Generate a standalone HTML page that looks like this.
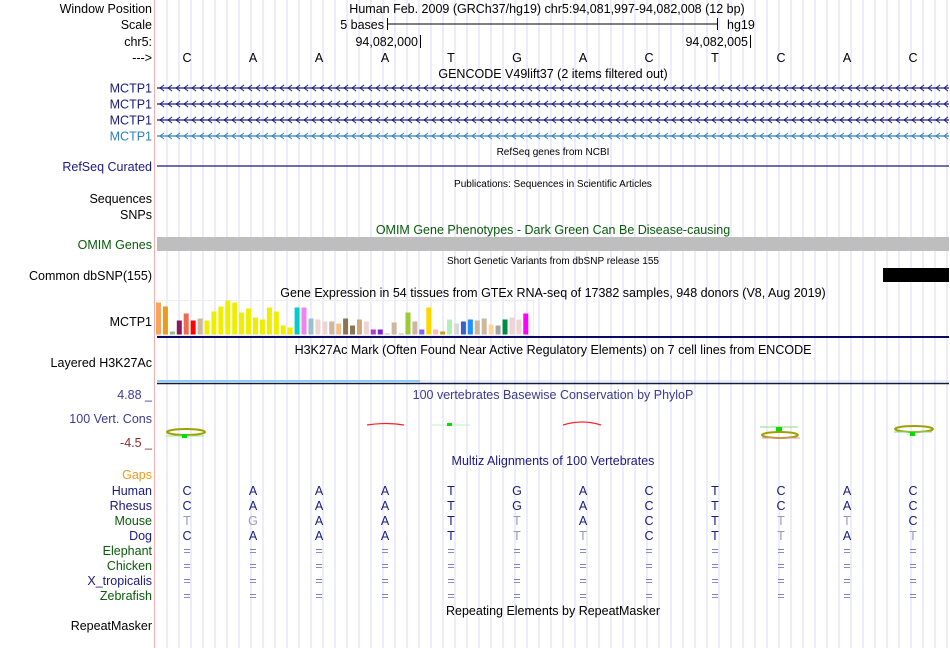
<!DOCTYPE html>
<html><head><meta charset="utf-8">
<style>
body{margin:0;background:#fff;}
#wrap{position:relative;width:950px;height:648px;overflow:hidden;font-family:"Liberation Sans",sans-serif;}
svg text{font-family:"Liberation Sans",sans-serif;}
</style></head>
<body>
<div id="wrap">
<svg id="svg" width="950" height="648"></svg>
</div>
<script>
const bases=["C","A","A","A","T","G","A","C","T","C","A","C"];
const rhesus=["C","A","A","A","T","G","A","C","T","C","A","C"];
const mouse=["T","G","A","A","T","T","A","C","T","T","T","C"];
const mouseMatch=[0,0,1,1,1,0,1,1,1,0,0,1];
const dog=["C","A","A","A","T","T","T","C","T","T","A","T"];
const dogMatch=[1,1,1,1,1,0,0,1,1,0,1,0];
const gtexValues=[32,28,3,14,21,14,16,14,23,28,34,32,22,26,17,15,27,23,9,7,27,27,16,15,13,13,11,16,9,15,13,5,5,1,12,1,22,13,5,27,5,3,15,11,13,15,14,16,10,9,15,17,15,21];
const gtexColors=["#f8a55b","#ee9a1a","#8fbc8f","#8b1a5a","#ee6a50","#ff0000","#cdb79e","#eeee00","#eeee00","#eeee00","#eeee00","#eeee00","#eeee00","#eeee00","#eeee00","#eeee00","#eeee00","#eeee00","#eeee00","#eeee00","#00cdcd","#ee82ee","#9ac0cd","#eed5d2","#eed5d2","#cdb79e","#f4c08a","#8b7355","#8b7355","#cdaa7d","#eed5d2","#b23ad8","#7d26cd","#cdb79e","#cdb79e","#cdb79e","#9acd32","#cdb79e","#7b68ee","#ffd700","#ffb6c1","#cd9b1d","#b4eeb4","#d9d9d9","#3a5fcd","#1e90ff","#cdb79e","#cdb79e","#ffd39b","#a6a6a6","#008b45","#eed5d2","#eed5d2","#ff00ff"];
const NS="http://www.w3.org/2000/svg";
const svg=document.getElementById('svg');
function el(tag,attrs,txt){const e=document.createElementNS(NS,tag);for(const k in attrs)e.setAttribute(k,attrs[k]);if(txt!==undefined)e.textContent=txt;svg.appendChild(e);return e;}
const X0=154,BW=66;
function bx(i){return X0+BW*i+BW/2;}
// grid
for(let x=167;x<950;x+=12){
 const l=el('line',{x1:x,y1:0,x2:x,y2:648,stroke:'#d8d8f4','stroke-width':1});
 
 
}
const sep=el('line',{x1:154.5,y1:0,x2:154.5,y2:648,stroke:'#f4b0b0','stroke-width':1});


function label(y,txt,color,name){
 const t=el('text',{x:152,y:y,'text-anchor':'end','font-size':12.5,fill:color},txt);
 
 
}
function title(y,txt,color,size,name){
 const t=el('text',{x:553,y:y,'text-anchor':'middle','font-size':size,fill:color},txt);
 
 
}
label(13,'Window Position','#000','window-position-label');
label(29,'Scale','#000','scale-label');
label(46,'chr5:','#000','chr5-label');
label(62,'--->','#000','strand-label');
let t=el('text',{x:547,y:13,'text-anchor':'middle','font-size':12.5,fill:'#000'},'Human Feb. 2009 (GRCh37/hg19)   chr5:94,081,997-94,082,008 (12 bp)');


t=el('text',{x:384,y:29,'text-anchor':'end','font-size':12.5,fill:'#000'},'5 bases');


el('line',{x1:387.5,y1:18,x2:387.5,y2:30,stroke:'#000'});
el('line',{x1:387,y1:24,x2:718,y2:24,stroke:'#000'});
el('line',{x1:717.5,y1:18,x2:717.5,y2:30,stroke:'#000'});
t=el('text',{x:727,y:29,'font-size':12.5,fill:'#000'},'hg19');


t=el('text',{x:418,y:46,'text-anchor':'end','font-size':12.5,fill:'#000'},'94,082,000');


el('line',{x1:420.5,y1:35,x2:420.5,y2:48,stroke:'#000'});
t=el('text',{x:748,y:46,'text-anchor':'end','font-size':12.5,fill:'#000'},'94,082,005');


el('line',{x1:750.5,y1:35,x2:750.5,y2:48,stroke:'#000'});
bases.forEach((b,i)=>{
 const e=el('text',{x:bx(i),y:62,'text-anchor':'middle','font-size':12.5,fill:'#000'},b);
 
 
});
title(78,'GENCODE V49lift37 (2 items filtered out)','#000',12.5,'gencode-title');
const gy=[88,104,120,136],gc=['#1a1a80','#1a1a80','#1a1a80','#2d80c0'];
gy.forEach((y,k)=>{
 label(y+4.5,'MCTP1',gc[k],'gene-label-mctp1');
 const g=el('line',{x1:157,y1:y,x2:949,y2:y,stroke:gc[k],'stroke-width':1.3});
 
 
 let d='';
 for(let x=160;x<949;x+=8){d+=`M${x+4},${y-3}L${x},${y}L${x+4},${y+3}`;}
 el('path',{d:d,stroke:gc[k],fill:'none','stroke-width':1});
});
title(155,'RefSeq genes from NCBI','#000',10,'refseq-title');
label(171,'RefSeq Curated','#1a1a80','refseq-label');
t=el('line',{x1:157,y1:166,x2:949,y2:166,stroke:'#1a1a80','stroke-width':1.3});


title(187,'Publications: Sequences in Scientific Articles','#000',10,'publications-title');
label(203,'Sequences','#000','sequences-label');
label(219,'SNPs','#000','snps-label');
title(234,'OMIM Gene Phenotypes - Dark Green Can Be Disease-causing','#0a5a0a',12.5,'omim-title');
label(249,'OMIM Genes','#0a5a0a','omim-label');
t=el('rect',{x:157,y:237,width:792,height:14,fill:'#bebebe'});


title(264,'Short Genetic Variants from dbSNP release 155','#000',10,'dbsnp-title');
label(280,'Common dbSNP(155)','#000','dbsnp-label');
t=el('rect',{x:883,y:268,width:66,height:14,fill:'#000'});


title(297,'Gene Expression in 54 tissues from GTEx RNA-seq of 17382 samples, 948 donors (V8, Aug 2019)','#000',12.5,'gtex-title');
label(326,'MCTP1','#000','gtex-label');
el('rect',{x:156.5,y:300.5,width:377,height:35,fill:'none',stroke:'#eeeeee'});
const base=334.5,step=6.93;
gtexValues.forEach((v,i)=>{
 const r=el('rect',{x:156+i*step,y:base-v,width:5,height:v,fill:gtexColors[i]});
 
 
});
el('line',{x1:157,y1:337,x2:949,y2:337,stroke:'#0a0a60','stroke-width':2});
title(354,'H3K27Ac Mark (Often Found Near Active Regulatory Elements) on 7 cell lines from ENCODE','#000',12.5,'h3k27ac-title');
label(367,'Layered H3K27Ac','#000','h3k27ac-label');
el('rect',{x:157,y:380,width:263,height:2,fill:'#87cefa'});
el('line',{x1:420,y1:381,x2:949,y2:381,stroke:'#bfe6fa','stroke-width':1});
el('line',{x1:157,y1:383.5,x2:949,y2:383.5,stroke:'#1a1a40','stroke-width':1.5});
title(399,'100 vertebrates Basewise Conservation by PhyloP','#3a3a90',12.5,'phylop-title');
t=el('text',{x:152,y:399,'text-anchor':'end','font-size':12.5,fill:'#3a3a90'},'4.88 _');


label(423,'100 Vert. Cons','#3a3a90','phylop-label');
t=el('text',{x:152,y:447,'text-anchor':'end','font-size':12.5,fill:'#8b2d2d'},'-4.5 _');


// conservation glyphs
function ring(cx,cy,w,c){el('ellipse',{cx:cx,cy:cy,rx:w/2,ry:3,fill:'none',stroke:c,'stroke-width':2});}
ring(186,432,38,'#a0a000');el('line',{x1:166,y1:436,x2:204,y2:436,stroke:'#90ee90'});el('rect',{x:182,y:434,width:5,height:4,fill:'#00e000'});
el('path',{d:'M367,425 Q386,422 404,425',stroke:'#ff2020',fill:'none','stroke-width':1.2});
el('line',{x1:432,y1:425,x2:470,y2:425,stroke:'#c0f0c0'});el('rect',{x:447,y:423,width:5,height:3,fill:'#00e000'});
el('path',{d:'M563,425 Q582,419 601,425',stroke:'#ff2020',fill:'none','stroke-width':1.2});
el('line',{x1:760,y1:427,x2:798,y2:427,stroke:'#80e080'});el('rect',{x:776,y:427,width:6,height:6,fill:'#00e000'});
ring(780,435,36,'#a0a000');el('line',{x1:762,y1:438,x2:800,y2:438,stroke:'#f09090'});
ring(914,429,38,'#a0a000');el('line',{x1:894,y1:432,x2:932,y2:432,stroke:'#80e080'});el('rect',{x:910,y:432,width:5,height:4,fill:'#00e000'});
title(465,'Multiz Alignments of 100 Vertebrates','#1a1a80',12.5,'multiz-title');
label(479,'Gaps','#ee9a1a','gaps-label');
const species=[['Human','#1a1a80'],['Rhesus','#1a1a80'],['Mouse','#0a5a0a'],['Dog','#1a1a80'],['Elephant','#0a5a0a'],['Chicken','#0a5a0a'],['X_tropicalis','#1a1a80'],['Zebrafish','#0a5a0a']];
species.forEach((s,k)=>{
 const y=495+15*k;
 label(y,s[0],s[1],'species-label-'+s[0].toLowerCase());
 for(let i=0;i<12;i++){
  let ch,col='#1a1a80';
  if(k===0)ch=bases[i];
  else if(k===1)ch=rhesus[i];
  else if(k===2){ch=mouse[i];col=mouseMatch[i]?'#1a1a80':'#9a9ab8';}
  else if(k===3){ch=dog[i];col=dogMatch[i]?'#1a1a80':'#9a9ab8';}
  else {ch='=';col='#8080c0';}
  const e=el('text',{x:bx(i),y:y,'text-anchor':'middle','font-size':12.5,fill:col},ch);
  
  
 }
});
title(615,'Repeating Elements by RepeatMasker','#000',12.5,'repeatmasker-title');
label(630,'RepeatMasker','#000','repeatmasker-label');
</script>
</body></html>
